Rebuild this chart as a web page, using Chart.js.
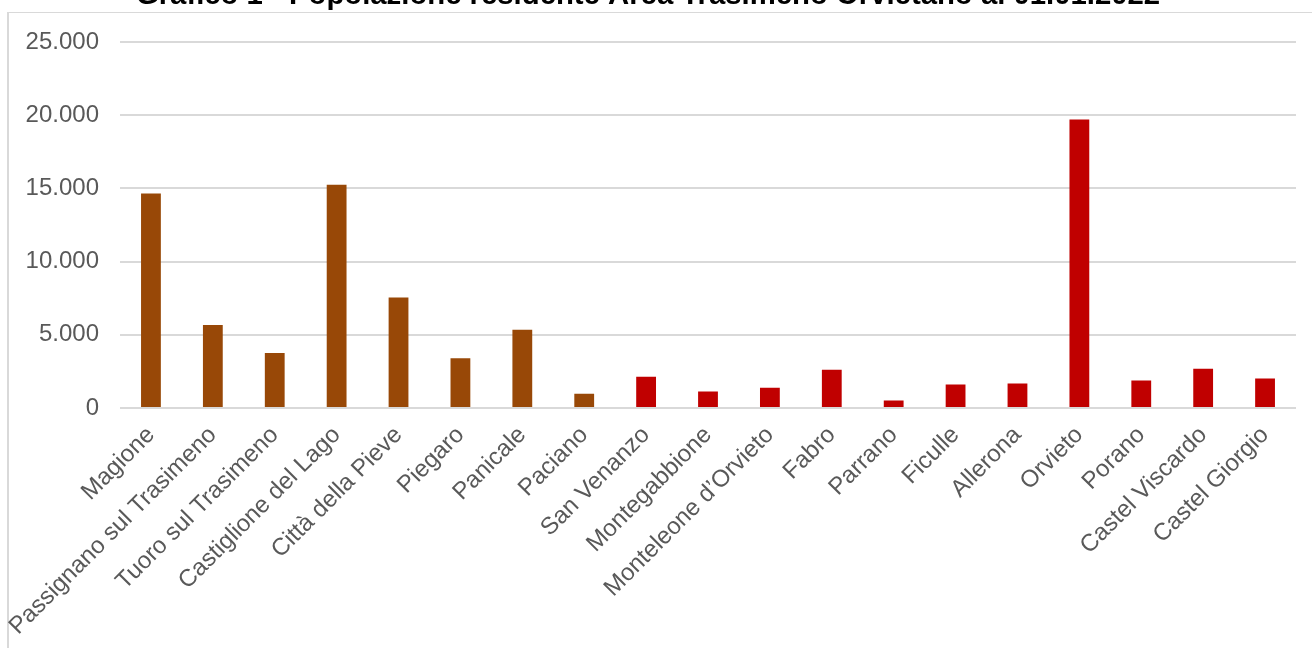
<!DOCTYPE html>
<html>
<head>
<meta charset="utf-8">
<script src="https://cdn.jsdelivr.net/npm/chart.js@4"></script>
<style>
  html, body { margin: 0; padding: 0; background: #ffffff; overflow: hidden; }
  body { width: 1312px; height: 648px; position: relative; }
  #frame { position: absolute; left: 7px; top: 12px; width: 1400px; height: 700px;
           border-left: 2px solid #d9d9d9; border-top: 1px solid #d9d9d9; box-sizing: border-box; }
  #wrap { position: absolute; left: 0; top: -22px; width: 1312px; height: 670px; }
</style>
</head>
<body>
<div id="frame"></div>
<div id="wrap"><canvas id="c" width="1312" height="670"></canvas></div>
<script>
const titleText = 'Grafico 1 - Popolazione residente Area Trasimeno Orvietano al 01.01.2022';

const categories = [
  'Magione', 'Passignano sul Trasimeno', 'Tuoro sul Trasimeno', 'Castiglione del Lago',
  'Città della Pieve', 'Piegaro', 'Panicale', 'Paciano', 'San Venanzo', 'Montegabbione',
  'Monteleone d\u2019Orvieto', 'Fabro', 'Parrano', 'Ficulle', 'Allerona', 'Orvieto',
  'Porano', 'Castel Viscardo', 'Castel Giorgio'
];

const population = [
  14650, 5680, 3760, 15250, 7550, 3400, 5340, 970, 2140, 1120,
  1390, 2620, 510, 1600, 1670, 19710, 1880, 2690, 2010
];

const areas = [
  'Trasimeno', 'Trasimeno', 'Trasimeno', 'Trasimeno', 'Trasimeno', 'Trasimeno', 'Trasimeno', 'Trasimeno',
  'Orvietano', 'Orvietano', 'Orvietano', 'Orvietano', 'Orvietano', 'Orvietano', 'Orvietano', 'Orvietano',
  'Orvietano', 'Orvietano', 'Orvietano'
];

const yTickLabels = ['0', '5.000', '10.000', '15.000', '20.000', '25.000'];

const areaColors = { Trasimeno: '#984807', Orvietano: '#C00000' };
const FONT = '"Liberation Sans", Arial, sans-serif';

new Chart(document.getElementById('c'), {
  type: 'bar',
  data: {
    labels: categories,
    datasets: [{
      label: 'Popolazione',
      data: population,
      backgroundColor: areas.map(a => areaColors[a]),
      borderWidth: 0,
      categoryPercentage: 1,
      barPercentage: 0.32
    }]
  },
  options: {
    responsive: false,
    animation: false,
    layout: { padding: { left: 0, right: 16, top: 0, bottom: 0 } },
    plugins: {
      legend: { display: false },
      tooltip: { enabled: false },
      title: {
        display: true,
        text: titleText,
        color: '#000000',
        font: { family: FONT, size: 29.3, weight: 'bold' },
        padding: { top: 0, bottom: 29 }
      }
    },
    scales: {
      x: {
        grid: { display: false, drawTicks: false },
        border: { display: false },
        ticks: {
          color: '#595959',
          font: { family: FONT, size: 24 },
          maxRotation: 45, minRotation: 45,
          padding: 13,
          autoSkip: false
        },
        afterFit: s => { s.height = 240; }
      },
      y: {
        min: 0, max: 25000,
        grid: { color: '#d9d9d9', lineWidth: 2, drawTicks: false },
        border: { display: false },
        ticks: {
          stepSize: 5000,
          color: '#595959',
          font: { family: FONT, size: 24 },
          padding: 21,
          callback: v => yTickLabels[Math.round(v / 5000)]
        },
        afterFit: s => { s.width = 120; }
      }
    }
  }
});
</script>
</body>
</html>
